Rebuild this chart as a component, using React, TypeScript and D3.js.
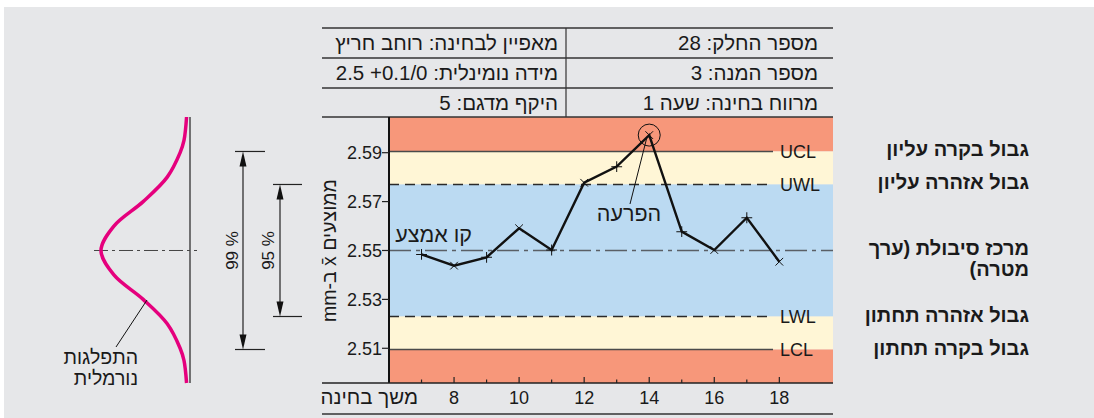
import * as React from "react";
import * as d3 from "d3";

// sample numbers and the sample means (mm)
const sampleNo = [7, 8, 9, 10, 11, 12, 13, 14, 15, 16, 17, 18];
const sampleMeans = [2.5484, 2.5438, 2.5472, 2.5591, 2.5502, 2.5777, 2.5843, 2.5972, 2.5577, 2.5502, 2.5634, 2.5454];
const outlierSample = 14;

const yTickValues = [2.51, 2.53, 2.55, 2.57, 2.59];
const xTickValues = [7, 8, 9, 10, 11, 12, 13, 14, 15, 16, 17, 18];
const xTickLabels = [8, 10, 12, 14, 16, 18];

// control / warning limits
const limitKeys = ["UCL", "UWL", "CL", "LWL", "LCL"];
const limitValues = [2.5905, 2.577, 2.55, 2.523, 2.5095];
const limitLabelsHe = [
  ["גבול בקרה עליון"],
  ["גבול אזהרה עליון"],
  ["מרכז סיבולת (ערך", "מטרה)"],
  ["גבול אזהרה תחתון"],
  ["גבול בקרה תחתון"],
];

const headerRight = ["מספר החלק: 28", "מספר המנה: 3", "מרווח בחינה: שעה 1"];
const headerLeft = ["מאפיין לבחינה: רוחב חריץ", "מידה נומינלית: \u20662.5 +0.1/0\u2069", "היקף מדגם: 5"];

// outline of the normal distribution sketch on the left (value, relative density)
const bellValues = [2.6046, 2.595, 2.59, 2.58, 2.57, 2.56, 2.55, 2.54, 2.53, 2.52, 2.51, 2.505, 2.4958];
const bellDensity = [0.005, 0.035, 0.08, 0.23, 0.51, 0.85, 1, 0.85, 0.51, 0.23, 0.08, 0.035, 0.005];

const W = 1094;
const H = 418;
const FONT = "'Liberation Sans', Arial, 'MacronFix', 'DejaVu Sans', sans-serif";
const HE = 20.5; // Hebrew text size
const css = `
@font-face { font-family: 'MacronFix'; src: local('DejaVu Sans'), local('DejaVuSans'); unicode-range: U+0304; }
`;

const App: React.FunctionComponent = () => {
  const svgRef = React.useRef<SVGSVGElement>(null);

  React.useEffect(() => {
    const el = svgRef.current;
    if (!el) return;
    const svg = d3.select(el);
    svg.selectAll("*").remove();

    const plotL = 389, plotR = 833, plotT = 117, plotB = 383;
    const tableL = 322;
    const ink = "#1a1a1a";

    const x = d3.scaleLinear().domain([6, 19.65]).range([plotL, plotR]);
    const y = d3.scaleLinear().domain([2.4958, 2.6046]).range([plotB, plotT]);
    const [yMin, yMax] = y.domain();

    // background panel
    svg.append("rect").attr("width", W).attr("height", H).attr("fill", "#fff");
    svg.append("rect").attr("x", 4).attr("y", 7).attr("width", W - 4).attr("height", H - 7).attr("fill", "#e6e7e9");

    // colored zones
    const ucl = limitValues[0], uwl = limitValues[1], lwl = limitValues[3], lcl = limitValues[4];
    const bands = [
      { from: ucl, to: yMax, color: "#f7977a" },
      { from: uwl, to: ucl, color: "#fff6d6" },
      { from: lwl, to: uwl, color: "#bbdaf2" },
      { from: lcl, to: lwl, color: "#fff6d6" },
      { from: yMin, to: lcl, color: "#f7977a" },
    ];
    svg.append("g")
      .selectAll("rect")
      .data(bands)
      .enter()
      .append("rect")
      .attr("x", plotL)
      .attr("width", plotR - plotL)
      .attr("y", d => y(d.to))
      .attr("height", d => y(d.from) - y(d.to))
      .attr("fill", d => d.color);

    // header table
    const rowLines = [28, 58, 88, plotT];
    const tbl = svg.append("g");
    rowLines.forEach(ry => {
      tbl.append("line").attr("x1", tableL).attr("x2", plotR).attr("y1", ry).attr("y2", ry)
        .attr("stroke", "#333").attr("stroke-width", 1.5);
    });
    tbl.append("line").attr("x1", 566).attr("x2", 566).attr("y1", 28).attr("y2", plotT)
      .attr("stroke", "#333").attr("stroke-width", 1.2);
    headerRight.forEach((t, i) => {
      tbl.append("text").attr("x", 818).attr("y", 50 + i * 30).text(t);
    });
    headerLeft.forEach((t, i) => {
      tbl.append("text").attr("x", 558).attr("y", 50 + i * 30).text(t);
    });
    tbl.selectAll("text")
      .attr("font-family", FONT).attr("font-size", HE).attr("fill", ink)
      .attr("direction", "rtl").attr("text-anchor", "start");

    // limit lines
    const lines = svg.append("g");
    limitKeys.forEach((k, i) => {
      const v = limitValues[i];
      const isCenter = k === "CL";
      const dashed = k === "UWL" || k === "LWL";
      lines.append("line")
        .attr("x1", plotL).attr("x2", isCenter ? plotR : 773)
        .attr("y1", y(v)).attr("y2", y(v))
        .attr("stroke", isCenter ? "#5a5f66" : dashed ? "#2a2a2a" : "#4a4a4a")
        .attr("stroke-width", isCenter ? 1.4 : 1.5)
        .attr("stroke-dasharray", isCenter ? "22,5,4,5" : dashed ? "10,6" : null);
      if (!isCenter) {
        lines.append("text")
          .attr("x", 780).attr("y", y(v) + 6.5)
          .attr("font-family", FONT).attr("font-size", 18).attr("fill", ink)
          .text(k);
      }
    });

    // right hand labels
    const side = svg.append("g")
      .attr("font-family", FONT).attr("font-size", 20).attr("font-weight", "bold").attr("fill", ink);
    limitLabelsHe.forEach((rows, i) => {
      rows.forEach((t, j) => {
        side.append("text")
          .attr("x", 1029).attr("y", y(limitValues[i]) + 5 + j * 21)
          .attr("direction", "rtl").attr("text-anchor", "start")
          .text(t);
      });
    });

    // axes frame
    svg.append("line").attr("x1", plotL).attr("x2", plotL).attr("y1", plotT).attr("y2", plotB)
      .attr("stroke", "#111").attr("stroke-width", 2);
    svg.append("line").attr("x1", tableL).attr("x2", plotR).attr("y1", plotB).attr("y2", plotB)
      .attr("stroke", "#222").attr("stroke-width", 1.6);
    svg.append("line").attr("x1", tableL).attr("x2", plotR).attr("y1", 414).attr("y2", 414)
      .attr("stroke", "#333").attr("stroke-width", 1.5);

    // y axis
    const yAxis = svg.append("g");
    yTickValues.forEach(v => {
      yAxis.append("line").attr("x1", plotL - 7).attr("x2", plotL).attr("y1", y(v)).attr("y2", y(v))
        .attr("stroke", "#222").attr("stroke-width", 1.2);
      yAxis.append("text").attr("x", plotL - 7).attr("y", y(v) + 6.5)
        .attr("text-anchor", "end").attr("font-family", FONT).attr("font-size", 18).attr("fill", ink)
        .text(d3.format(".2f")(v));
    });
    yAxis.append("text")
      .attr("transform", `translate(336, ${y(2.55)}) rotate(-90)`)
      .attr("text-anchor", "middle").attr("direction", "rtl")
      .attr("font-family", FONT).attr("font-size", 19.5).attr("fill", ink)
      .text("ממוצעים x\u0304 ב-mm");

    // x axis (ticks pointing into the plot)
    const xAxis = svg.append("g");
    xTickValues.forEach(v => {
      const major = xTickLabels.includes(v);
      xAxis.append("line").attr("x1", x(v)).attr("x2", x(v))
        .attr("y1", plotB).attr("y2", plotB - (major ? 6 : 3.5))
        .attr("stroke", "#222").attr("stroke-width", 1.2);
    });
    xTickLabels.forEach(v => {
      xAxis.append("text").attr("x", x(v)).attr("y", 404)
        .attr("text-anchor", "middle").attr("font-family", FONT).attr("font-size", 18).attr("fill", ink)
        .text(v);
    });
    xAxis.append("text").attr("x", 418).attr("y", 404)
      .attr("direction", "rtl").attr("text-anchor", "start")
      .attr("font-family", FONT).attr("font-size", HE).attr("fill", ink)
      .text("משך בחינה");

    // data line
    const pts = sampleNo.map((n, i) => ({ n, v: sampleMeans[i] }));
    const line = d3.line<{ n: number; v: number }>().x(d => x(d.n)).y(d => y(d.v));
    svg.append("path").attr("d", line(pts)).attr("fill", "none")
      .attr("stroke", "#111").attr("stroke-width", 2.4).attr("stroke-linejoin", "miter");
    const sym = d3.symbol().type(d3.symbolX).size(40);
    svg.append("g").selectAll("path").data(pts).enter().append("path")
      .attr("transform", d => `translate(${x(d.n)},${y(d.v)}) rotate(${d.n % 2 ? 45 : 0})`)
      .attr("d", sym()).attr("fill", "none").attr("stroke", "#111").attr("stroke-width", 1);

    // outlier annotation
    const out = pts.find(d => d.n === outlierSample)!;
    svg.append("circle").attr("cx", x(out.n)).attr("cy", y(out.v)).attr("r", 11)
      .attr("fill", "none").attr("stroke", "#111").attr("stroke-width", 1);
    svg.append("line").attr("x1", 630).attr("y1", 204).attr("x2", x(out.n) - 2.5).attr("y2", y(out.v) + 3)
      .attr("stroke", "#111").attr("stroke-width", 1);
    svg.append("text").attr("x", 629).attr("y", 221).attr("text-anchor", "middle")
      .attr("font-family", FONT).attr("font-size", HE + 1).attr("fill", ink)
      .text("הפרעה");
    svg.append("text").attr("x", 472).attr("y", 242).attr("direction", "rtl").attr("text-anchor", "start")
      .attr("font-family", FONT).attr("font-size", HE + 1).attr("fill", ink)
      .text("קו אמצע");

    // normal distribution sketch
    const dens = d3.scaleLinear().domain([0, 1]).range([187, 101]);
    const bellPts = bellValues.map((v, i) => ({ v, d: bellDensity[i] }));
    const bell = d3.line<{ v: number; d: number }>()
      .x(d => dens(d.d)).y(d => y(d.v)).curve(d3.curveCatmullRom.alpha(0.5));
    svg.append("line").attr("x1", 190).attr("x2", 190).attr("y1", plotT).attr("y2", plotB)
      .attr("stroke", "#222").attr("stroke-width", 1.2);
    svg.append("line").attr("x1", 94).attr("x2", 197).attr("y1", y(2.55)).attr("y2", y(2.55))
      .attr("stroke", "#444").attr("stroke-width", 1).attr("stroke-dasharray", "14,4,3,4");
    svg.append("path").attr("d", bell(bellPts)).attr("fill", "none")
      .attr("stroke", "#e5007d").attr("stroke-width", 3.5);

    // dimension arrows (99 % between control limits, 95 % between warning limits)
    const dims = [
      { x: 243, top: ucl, bottom: lcl, x1: 235, x2: 265, label: "99 %", tx: 238 },
      { x: 280, top: uwl, bottom: lwl, x1: 273, x2: 302, label: "95 %", tx: 274 },
    ];
    dims.forEach(dm => {
      const g = svg.append("g");
      const yt = y(dm.top), yb = y(dm.bottom);
      [yt, yb].forEach(yy => g.append("line").attr("x1", dm.x1).attr("x2", dm.x2).attr("y1", yy).attr("y2", yy)
        .attr("stroke", "#222").attr("stroke-width", 1.2));
      g.append("line").attr("x1", dm.x).attr("x2", dm.x).attr("y1", yt + 10).attr("y2", yb - 10)
        .attr("stroke", "#222").attr("stroke-width", 1.2);
      g.append("path").attr("d", `M${dm.x},${yt}L${dm.x - 3.5},${yt + 15}L${dm.x + 3.5},${yt + 15}Z`).attr("fill", "#111");
      g.append("path").attr("d", `M${dm.x},${yb}L${dm.x - 3.5},${yb - 15}L${dm.x + 3.5},${yb - 15}Z`).attr("fill", "#111");
      g.append("text").attr("transform", `translate(${dm.tx}, ${y(2.55)}) rotate(-90)`)
        .attr("text-anchor", "middle").attr("font-family", FONT).attr("font-size", 17).attr("fill", ink)
        .text(dm.label);
    });

    // leader + caption for the bell
    svg.append("line").attr("x1", 147).attr("y1", 300).attr("x2", 116).attr("y2", 347)
      .attr("stroke", "#111").attr("stroke-width", 1);
    ["התפלגות", "נורמלית"].forEach((t, i) => {
      svg.append("text").attr("x", 138).attr("y", 364 + i * 20.5)
        .attr("direction", "rtl").attr("text-anchor", "start")
        .attr("font-family", FONT).attr("font-size", 19.5).attr("fill", ink)
        .text(t);
    });

    return () => {
      svg.selectAll("*").remove();
    };
  }, []);

  return (
    <>
      <style>{css}</style>
      <svg
        ref={svgRef}
        width={W}
        height={H}
        style={{ position: "absolute", left: 0, top: 0, display: "block" }}
      />
    </>
  );
};

export default App;
